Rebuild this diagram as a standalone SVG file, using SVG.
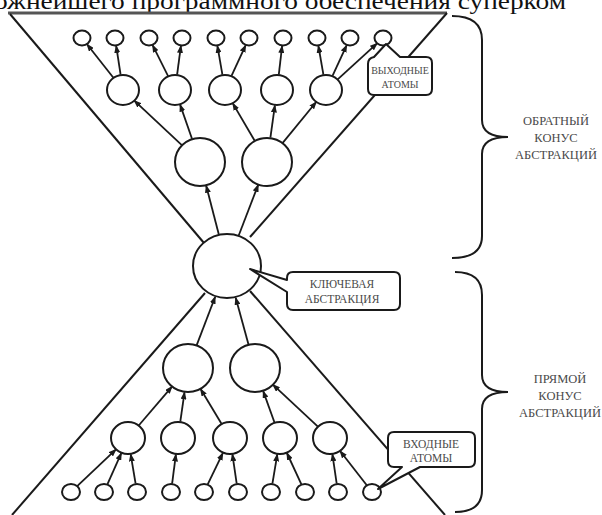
<svg xmlns="http://www.w3.org/2000/svg" width="602" height="515" viewBox="0 0 602 515">
<style>
.n{fill:#fff;stroke:#1a1a1a;stroke-width:2}
.c{stroke:#1a1a1a;stroke-width:1.8;fill:none;marker-end:url(#ah)}
.h{stroke:#1a1a1a;stroke-width:2;fill:none}
.co{fill:#fff;stroke:#1a1a1a;stroke-width:2;stroke-linejoin:round}
.lb{font-family:"Liberation Serif","DejaVu Serif",serif;fill:#4a4a4a;text-anchor:middle}
.bl{font-family:"Liberation Serif","DejaVu Serif",serif;font-size:12.5px;fill:#4a4a4a;text-anchor:middle}
</style>
<defs>
<marker id="ah" markerUnits="userSpaceOnUse" markerWidth="8" markerHeight="6" refX="7" refY="3" orient="auto">
<path d="M0,0 L8,3 L0,6 z" fill="#1a1a1a"/>
</marker>
</defs>
<rect width="602" height="515" fill="#fff"/>
<text x="-6" y="9" font-family="Liberation Serif, serif" font-size="24" fill="#111" textLength="572" lengthAdjust="spacingAndGlyphs">ожнейшего программного обеспечения суперком</text>
<g id="hourglass">
<line x1="8" y1="13" x2="447" y2="13" stroke="#555" stroke-width="3"/>
<line class="h" x1="10" y1="14" x2="204" y2="243"/>
<line class="h" x1="447" y1="13" x2="250" y2="237"/>
<line class="h" x1="205" y1="293" x2="12" y2="515"/>
<line class="h" x1="250" y1="291" x2="445" y2="515"/>
</g>
<g id="connectors">
<line class="c" x1="218.7" y1="234.1" x2="206.2" y2="185.7"/>
<line class="c" x1="238.8" y1="235.2" x2="258.2" y2="184.9"/>
<line class="c" x1="182.1" y1="145.3" x2="134.3" y2="100.6"/>
<line class="c" x1="192.0" y1="138.8" x2="180.1" y2="104.6"/>
<line class="c" x1="254.7" y1="140.8" x2="232.8" y2="103.4"/>
<line class="c" x1="270.4" y1="137.7" x2="274.9" y2="105.4"/>
<line class="c" x1="282.5" y1="143.1" x2="316.2" y2="102.0"/>
<line class="c" x1="113.4" y1="77.8" x2="87.0" y2="44.3"/>
<line class="c" x1="120.6" y1="74.7" x2="116.2" y2="45.9"/>
<line class="c" x1="168.1" y1="76.1" x2="152.6" y2="45.2"/>
<line class="c" x1="177.1" y1="74.6" x2="180.9" y2="45.9"/>
<line class="c" x1="222.4" y1="74.7" x2="217.4" y2="45.9"/>
<line class="c" x1="231.5" y1="75.9" x2="245.6" y2="45.3"/>
<line class="c" x1="278.8" y1="74.6" x2="282.1" y2="46.0"/>
<line class="c" x1="323.4" y1="74.7" x2="318.4" y2="45.9"/>
<line class="c" x1="332.5" y1="75.9" x2="346.6" y2="45.3"/>
<line class="c" x1="337.4" y1="79.6" x2="377.1" y2="43.4"/>
<line class="c" x1="196.7" y1="345.1" x2="215.2" y2="296.8"/>
<line class="c" x1="248.5" y1="344.4" x2="235.7" y2="297.8"/>
<line class="c" x1="138.7" y1="425.5" x2="172.0" y2="386.6"/>
<line class="c" x1="180.3" y1="421.7" x2="184.5" y2="392.3"/>
<line class="c" x1="221.5" y1="423.8" x2="200.6" y2="389.0"/>
<line class="c" x1="274.5" y1="422.5" x2="263.2" y2="391.1"/>
<line class="c" x1="317.9" y1="426.7" x2="272.9" y2="384.7"/>
<line class="c" x1="77.2" y1="486.2" x2="116.0" y2="449.4"/>
<line class="c" x1="107.5" y1="484.2" x2="121.3" y2="453.1"/>
<line class="c" x1="135.6" y1="483.6" x2="130.7" y2="454.3"/>
<line class="c" x1="172.1" y1="483.6" x2="175.9" y2="454.4"/>
<line class="c" x1="207.7" y1="484.3" x2="222.8" y2="453.1"/>
<line class="c" x1="236.7" y1="483.6" x2="232.4" y2="454.3"/>
<line class="c" x1="272.4" y1="483.6" x2="277.3" y2="454.3"/>
<line class="c" x1="301.4" y1="484.3" x2="286.9" y2="453.0"/>
<line class="c" x1="336.7" y1="483.6" x2="332.4" y2="454.3"/>
<line class="c" x1="366.8" y1="485.3" x2="340.1" y2="451.0"/>
</g>
<g id="t1"><ellipse class="n" cx="82" cy="38" rx="8.5" ry="7.5"/></g>
<g id="t2"><ellipse class="n" cx="115" cy="38" rx="8.5" ry="7.5"/></g>
<g id="t3"><ellipse class="n" cx="149" cy="38" rx="8.5" ry="7.5"/></g>
<g id="t4"><ellipse class="n" cx="182" cy="38" rx="8.5" ry="7.5"/></g>
<g id="t5"><ellipse class="n" cx="216" cy="38" rx="8.5" ry="7.5"/></g>
<g id="t6"><ellipse class="n" cx="249" cy="38" rx="8.5" ry="7.5"/></g>
<g id="t7"><ellipse class="n" cx="283" cy="38" rx="8.5" ry="7.5"/></g>
<g id="t8"><ellipse class="n" cx="317" cy="38" rx="8.5" ry="7.5"/></g>
<g id="t9"><ellipse class="n" cx="350" cy="38" rx="8.5" ry="7.5"/></g>
<g id="t10"><ellipse class="n" cx="383" cy="38" rx="8.5" ry="7.5"/></g>
<g id="m1"><ellipse class="n" cx="123" cy="90" rx="16" ry="15"/></g>
<g id="m2"><ellipse class="n" cx="175" cy="90" rx="16" ry="15"/></g>
<g id="m3"><ellipse class="n" cx="225" cy="90" rx="16" ry="15"/></g>
<g id="m4"><ellipse class="n" cx="277" cy="90" rx="16" ry="15"/></g>
<g id="m5"><ellipse class="n" cx="326" cy="90" rx="16" ry="15"/></g>
<g id="l1"><ellipse class="n" cx="200" cy="162" rx="25" ry="24"/></g>
<g id="l2"><ellipse class="n" cx="267" cy="162" rx="25" ry="24"/></g>
<g id="key"><ellipse class="n" cx="227" cy="266" rx="34" ry="32"/></g>
<g id="bl1"><ellipse class="n" cx="188" cy="368" rx="25" ry="24"/></g>
<g id="bl2"><ellipse class="n" cx="255" cy="368" rx="25" ry="24"/></g>
<g id="bm1"><ellipse class="n" cx="128" cy="438" rx="17" ry="16"/></g>
<g id="bm2"><ellipse class="n" cx="178" cy="438" rx="17" ry="16"/></g>
<g id="bm3"><ellipse class="n" cx="230" cy="438" rx="17" ry="16"/></g>
<g id="bm4"><ellipse class="n" cx="280" cy="438" rx="17" ry="16"/></g>
<g id="bm5"><ellipse class="n" cx="330" cy="438" rx="17" ry="16"/></g>
<g id="b1"><ellipse class="n" cx="71" cy="492" rx="9" ry="8"/></g>
<g id="b2"><ellipse class="n" cx="104" cy="492" rx="9" ry="8"/></g>
<g id="b3"><ellipse class="n" cx="137" cy="492" rx="9" ry="8"/></g>
<g id="b4"><ellipse class="n" cx="171" cy="492" rx="9" ry="8"/></g>
<g id="b5"><ellipse class="n" cx="204" cy="492" rx="9" ry="8"/></g>
<g id="b6"><ellipse class="n" cx="238" cy="492" rx="9" ry="8"/></g>
<g id="b7"><ellipse class="n" cx="271" cy="492" rx="9" ry="8"/></g>
<g id="b8"><ellipse class="n" cx="305" cy="492" rx="9" ry="8"/></g>
<g id="b9"><ellipse class="n" cx="338" cy="492" rx="9" ry="8"/></g>
<g id="b10"><ellipse class="n" cx="372" cy="492" rx="9" ry="8"/></g>
<g id="callout-out">
<path class="co" d="M400,57 L426,57 Q432,57 432,63 L432,89 Q432,95 426,95 L374,95 Q368,95 368,89 L368,64 Q368,58 374,57 L386,44 Z"/>
<text class="lb" x="400" y="74" font-size="10">ВЫХОДНЫЕ</text>
<text class="lb" x="400" y="88" font-size="10">АТОМЫ</text>
</g>
<g id="callout-key">
<path class="co" d="M293,272 L394,272 Q400,272 400,278 L400,304 Q400,310 394,310 L293,310 Q287,310 287,304 L287,292 L250,269 L287,280 L287,278 Q287,272 293,272 Z"/>
<text class="lb" x="342" y="288" font-size="11.5">КЛЮЧЕВАЯ</text>
<text class="lb" x="342" y="303" font-size="11.5">АБСТРАКЦИЯ</text>
</g>
<g id="callout-in">
<path class="co" d="M394,432 L469,432 Q475,432 475,438 L475,461 Q475,467 469,467 L420,467 L378,489 L402,467 L394,467 Q388,467 388,461 L388,438 Q388,432 394,432 Z"/>
<text class="lb" x="431" y="448" font-size="11.5">ВХОДНЫЕ</text>
<text class="lb" x="431" y="462" font-size="11.5">АТОМЫ</text>
</g>
<g id="brace-top">
<path class="h" d="M452,16 Q482,16 482,40 L482,120 Q482,137 508,137 Q482,137 482,154 L482,236 Q482,258 452,258"/>
<text class="bl" x="556" y="125">ОБРАТНЫЙ</text>
<text class="bl" x="556" y="142">КОНУС</text>
<text class="bl" x="556" y="159">АБСТРАКЦИЙ</text>
</g>
<g id="brace-bottom">
<path class="h" d="M455,272 Q482,272 482,295 L482,375 Q482,392 508,392 Q482,392 482,409 L482,490 Q482,512 455,512"/>
<text class="bl" x="560" y="383">ПРЯМОЙ</text>
<text class="bl" x="560" y="400">КОНУС</text>
<text class="bl" x="560" y="417">АБСТРАКЦИЙ</text>
</g>
</svg>
